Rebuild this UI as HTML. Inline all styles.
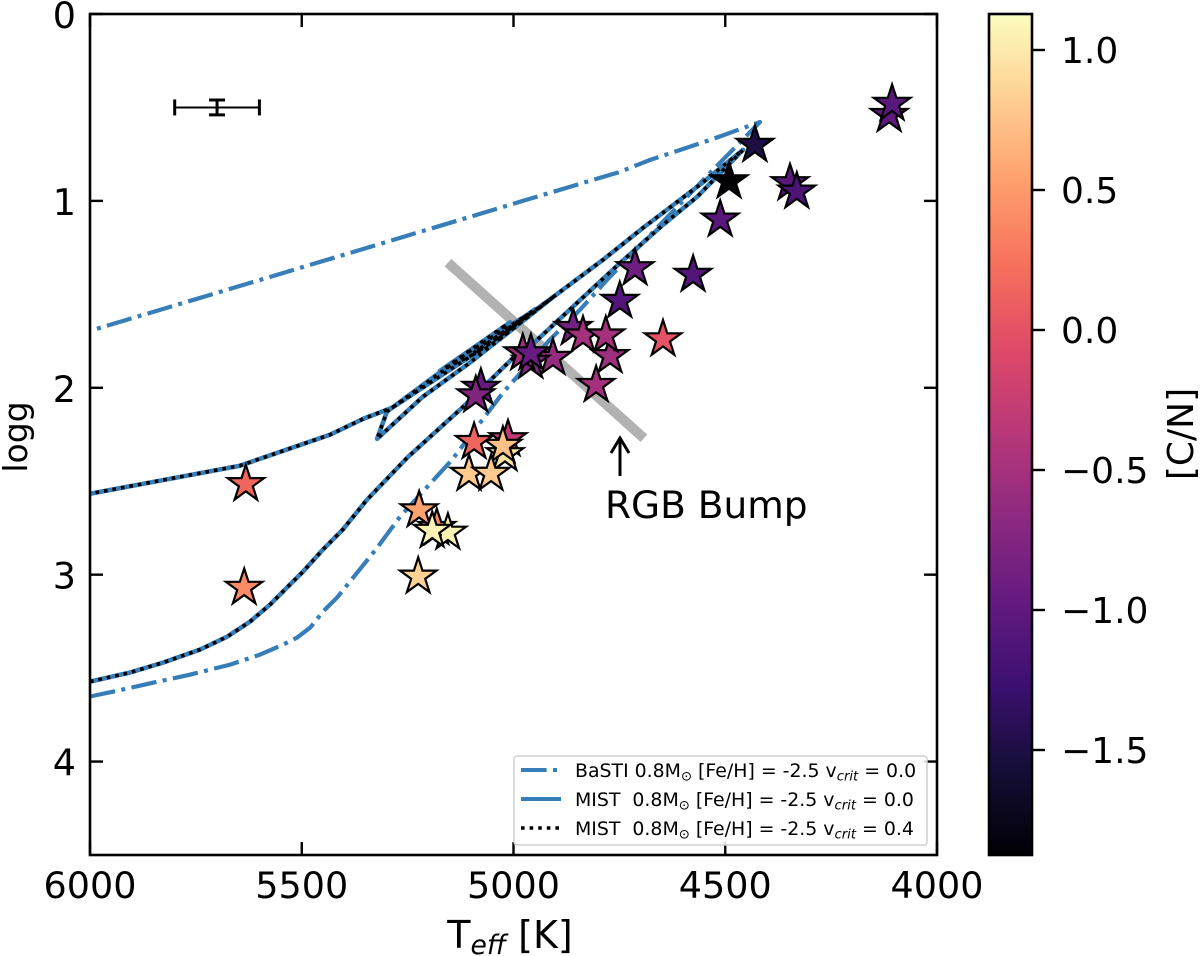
<!DOCTYPE html>
<html lang="en">
<head>
<meta charset="utf-8">
<title>logg vs Teff with [C/N] colour scale</title>
<style>
html,body{margin:0;padding:0;background:#fff;}
svg{display:block;}
text{font-family:"DejaVu Sans","Liberation Sans",sans-serif;fill:#000;white-space:pre;}
</style>
</head>
<body>
<svg id="chart" xmlns="http://www.w3.org/2000/svg" width="1200" height="956" viewBox="0 0 1200 956">
  <defs>
    <linearGradient id="magma-gradient" x1="0" y1="1" x2="0" y2="0"></linearGradient>
  </defs>
  <rect x="0" y="0" width="1200" height="956" fill="#fff"></rect>
  <g id="marks"></g>
  <g id="axes"></g>
  <g id="legend"></g>
  <g id="colorbar"></g>
</svg>
<script>
// ---- Data ----
const xTickValues = [6000, 5500, 5000, 4500, 4000];
const xTickLabels = ['6000', '5500', '5000', '4500', '4000'];
const yTickValues = [0, 1, 2, 3, 4];
const yTickLabels = ['0', '1', '2', '3', '4'];
const cbarTickValues = [1.0, 0.5, 0.0, -0.5, -1.0, -1.5];
const cbarTickLabels = ['1.0', '0.5', '0.0', '\u22120.5', '\u22121.0', '\u22121.5'];

const bastiTeff = [6000,5946,5851,5764,5669,5599,5544,5511,5480,5450,5417,5386,5322,5268,5145,5025,4914,4843,4779,4536,4418,4536,4678,4749,4985,5268,5622,6000];
const bastiLogg = [3.652,3.626,3.578,3.535,3.481,3.428,3.374,3.337,3.283,3.198,3.123,3.037,2.856,2.69,2.385,2.027,1.743,1.583,1.422,0.85,0.578,0.674,0.781,0.845,1.005,1.198,1.439,1.695];

const mist0Teff = [6000,5906,5828,5740,5676,5622,5575,5528,5497,5450,5403,5346,5251,5119,5001,4949,4753,4647,4567,4458,4560,4694,4789,4909,5103,5214,5322,5299,5287,5197,5063,4909,5032,4949,5103,5008,5174,5050,4960,5110,5287,5355,5433,5646,6000];
const mist0Logg = [3.572,3.524,3.471,3.401,3.332,3.251,3.16,3.053,2.984,2.866,2.759,2.599,2.374,2.102,1.84,1.754,1.342,1.128,0.979,0.727,0.914,1.144,1.316,1.519,1.866,2.048,2.273,2.128,2.107,1.973,1.775,1.519,1.74,1.58,1.825,1.65,1.91,1.77,1.6,1.81,2.107,2.166,2.251,2.417,2.567];

const mist4Teff = [6000,5906,5828,5740,5676,5622,5575,5528,5497,5450,5403,5346,5251,5119,5001,4949,4753,4647,4567,4458,4560,4694,4789,4909,5103,5214,5322,5299,5287,5197,5063,4909,5040,4955,5095,5015,5165,5058,4968,5100,5287,5355,5433,5646,6000];
const mist4Logg = [3.572,3.524,3.471,3.401,3.332,3.251,3.16,3.053,2.984,2.866,2.759,2.599,2.374,2.102,1.84,1.754,1.342,1.128,0.979,0.727,0.914,1.144,1.316,1.519,1.866,2.048,2.273,2.128,2.107,1.973,1.775,1.519,1.75,1.59,1.815,1.66,1.9,1.78,1.61,1.8,2.107,2.166,2.251,2.417,2.567];

const bumpTeff = [5155, 4692];
const bumpLogg = [1.33, 2.27];

const starTeff = [4113,4106,4347,4331,4430,4491,4512,4576,4713,4749,4647,4859,4836,4772,4782,4805,4907,4959,4978,4959,5077,5089,5013,5020,5025,5093,5105,5053,5181,5223,5155,5192,5225,5636,5632];
const starLogg = [0.54,0.48,0.905,0.95,0.7,0.895,1.1,1.395,1.36,1.535,1.74,1.68,1.72,1.83,1.72,1.985,1.84,1.86,1.815,1.815,2.0,2.04,2.275,2.355,2.31,2.29,2.46,2.46,2.75,2.655,2.775,2.765,3.01,3.07,2.515];
const starCN = [-1.0,-1.05,-1.05,-1.15,-1.5,-1.87,-1.05,-1.1,-0.9,-1.1,0.0,-0.85,-0.5,-0.55,-0.5,-0.5,-0.6,-0.75,-0.55,-0.95,-0.95,-0.75,-0.3,0.95,0.75,0.15,0.8,0.8,0.4,0.55,1.05,1.05,0.85,0.4,0.15];

const errTeff = [5700];
const errLogg = [0.5];
const errTeffSize = [100];
const errLoggSize = [0.04];

const magmaStops = ['#000004','#140e36','#3b0f70','#641a80','#8c2981','#b73779','#de4968','#f7705c','#fe9f6d','#fecf92','#fcfdbf'];
const cmapMin = -1.875;
const cmapMax = 1.13;

const legendLabels = ['BaSTI 0.8M', 'MIST  0.8M', 'MIST  0.8M'];
const legendValues = ['0.0', '0.0', '0.4'];

// ---- Scales ----
const NS = 'http://www.w3.org/2000/svg';
const PL = 90, PR = 937, PT = 14, PB = 855;
const CL = 989, CR = 1032;
function xScale(t){ return PL + (6000 - t) / 2000 * (PR - PL); }
function yScale(g){ return PT + g / 4.5 * (PB - PT); }
function cbarY(v){ return 330 - v * 280; }

function mk(parent, tag, attrs, txt){
  const e = document.createElementNS(NS, tag);
  for (const k in attrs) e.setAttribute(k, attrs[k]);
  if (txt !== undefined) e.textContent = txt;
  parent.appendChild(e);
  return e;
}
function hex(c){ return [1,3,5].map(i => parseInt(c.substr(i,2),16)); }
function magma(v){
  const f = Math.max(0, Math.min(1, (v - cmapMin) / (cmapMax - cmapMin))) * (magmaStops.length - 1);
  const i = Math.min(Math.floor(f), magmaStops.length - 2);
  const a = hex(magmaStops[i]), b = hex(magmaStops[i+1]), u = f - i;
  return 'rgb(' + a.map((p,j) => Math.round(p + (b[j]-p)*u)).join(',') + ')';
}
function pts(ts, gs){ return ts.map((t,i) => xScale(t).toFixed(1) + ',' + yScale(gs[i]).toFixed(1)).join(' '); }
function starPts(cx, cy, r){
  const out = [];
  for (let i = 0; i < 10; i++){
    const rad = i % 2 ? r * 0.381966 : r;
    const a = -Math.PI/2 + i * Math.PI/5;
    out.push((cx + rad*Math.cos(a)).toFixed(1) + ',' + (cy + rad*Math.sin(a)).toFixed(1));
  }
  return out.join(' ');
}

const marks = document.getElementById('marks');
const axes = document.getElementById('axes');
const legend = document.getElementById('legend');
const cbar = document.getElementById('colorbar');
const BLUE = '#377eb8';

// ---- Tracks ----
const bump = mk(marks, 'polyline', {points: pts(bumpTeff, bumpLogg), fill:'none', stroke:'#b2b2b2', 'stroke-width':10});



const basti = mk(marks, 'polyline', {points: pts(bastiTeff, bastiLogg), fill:'none', stroke:BLUE, 'stroke-width':4.2, 'stroke-dasharray':'25.6 6.4 4 6.4', 'stroke-linejoin':'round'});



const mist0 = mk(marks, 'polyline', {points: pts(mist0Teff, mist0Logg), fill:'none', stroke:BLUE, 'stroke-width':4.6, 'stroke-linejoin':'round'});



const mist4 = mk(marks, 'polyline', {points: pts(mist4Teff, mist4Logg), fill:'none', stroke:'#000', 'stroke-width':3.6, 'stroke-dasharray':'3.6 5', 'stroke-linejoin':'round'});



// ---- Stars ----
starTeff.forEach((t, i) => {
  const s = mk(marks, 'polygon', {points: starPts(xScale(t), yScale(starLogg[i]), 19.2), fill: magma(starCN[i]), stroke:'#000', 'stroke-width':2.2, 'stroke-linejoin':'miter'});
  
  
});

// ---- Error bar ----
const eg = mk(marks, 'g', {stroke:'#000', fill:'none'});


{
  const cx = xScale(errTeff[0]), cy = yScale(errLogg[0]);
  const x0 = xScale(errTeff[0] + errTeffSize[0]), x1 = xScale(errTeff[0] - errTeffSize[0]);
  const y0 = yScale(errLogg[0] - errLoggSize[0]), y1 = yScale(errLogg[0] + errLoggSize[0]);
  mk(eg, 'line', {x1:x0, x2:x1, y1:cy, y2:cy, 'stroke-width':2});
  mk(eg, 'line', {x1:x0, x2:x0, y1:cy-8, y2:cy+8, 'stroke-width':3});
  mk(eg, 'line', {x1:x1, x2:x1, y1:cy-8, y2:cy+8, 'stroke-width':3});
  mk(eg, 'line', {x1:cx, x2:cx, y1:y0, y2:y1, 'stroke-width':3});
  mk(eg, 'line', {x1:cx-8, x2:cx+8, y1:y0, y2:y0, 'stroke-width':3});
  mk(eg, 'line', {x1:cx-8, x2:cx+8, y1:y1, y2:y1, 'stroke-width':3});
}

// ---- Annotation ----
const arrow = mk(marks, 'path', {d:'M620 476 L620 439 M611 453 L620 438 L629 453', fill:'none', stroke:'#000', 'stroke-width':3});


const bumpText = mk(marks, 'text', {x:605, y:518, 'font-size':37.5}, 'RGB Bump');



// ---- Axes ----
const TL = 13;
xTickValues.forEach((v, i) => {
  const x = xScale(v);
  const b = mk(axes, 'line', {x1:x, x2:x, y1:PB, y2:PB-TL, stroke:'#000', 'stroke-width':2.4});
  
  
  const t = mk(axes, 'line', {x1:x, x2:x, y1:PT, y2:PT+TL, stroke:'#000', 'stroke-width':2.4});
  
  
  const l = mk(axes, 'text', {x:x, y:898, 'font-size':36.5, 'text-anchor':'middle'}, xTickLabels[i]);
  
  
});
yTickValues.forEach((v, i) => {
  const y = yScale(v);
  const b = mk(axes, 'line', {x1:PL, x2:PL+TL, y1:y, y2:y, stroke:'#000', 'stroke-width':2.4});
  
  
  const r = mk(axes, 'line', {x1:PR, x2:PR-TL, y1:y, y2:y, stroke:'#000', 'stroke-width':2.4});
  
  
  const l = mk(axes, 'text', {x:76, y:y+14, 'font-size':36.5, 'text-anchor':'end'}, yTickLabels[i]);
  
  
});
const frame = mk(axes, 'rect', {x:PL, y:PT, width:PR-PL, height:PB-PT, fill:'none', stroke:'#000', 'stroke-width':2.6});



const yTitle = mk(axes, 'text', {x:0, y:0, 'font-size':33, 'text-anchor':'middle', transform:'translate(27,437) rotate(-90)'}, 'logg');



const xTitle = mk(axes, 'text', {x:510, y:948, 'font-size':38, 'text-anchor':'middle'});


mk(xTitle, 'tspan', {}, 'T');
mk(xTitle, 'tspan', {dy:6, 'font-size':26.6, 'font-style':'italic'}, 'eff');
mk(xTitle, 'tspan', {dy:-6}, ' [K]');

// ---- Legend ----
const lbox = mk(legend, 'rect', {x:514, y:756, width:413, height:89, rx:3, fill:'#fff', 'fill-opacity':0.85, stroke:'#d0d0d0', 'stroke-width':1.5});


const handleDash = ['25.6 6.4 4 6.4', 'none', '3.6 5'];
const handleColor = [BLUE, BLUE, '#000'];
const handleWidth = [4, 4, 3.6];
legendLabels.forEach((lab, i) => {
  const y = 770 + i * 29;
  const h = mk(legend, 'line', {x1:521, x2:561, y1:y, y2:y, stroke:handleColor[i], 'stroke-width':handleWidth[i], 'stroke-dasharray':handleDash[i]});
  
  
  const t = mk(legend, 'text', {x:575, y:y+7, 'font-size':18.9});
  
  
  mk(t, 'tspan', {}, lab);
  mk(t, 'tspan', {dy:3.5, 'font-size':13.2}, '\u2299');
  mk(t, 'tspan', {dy:-3.5}, ' [Fe/H] = -2.5 v');
  mk(t, 'tspan', {dy:3.5, 'font-size':13.2, 'font-style':'italic'}, 'crit');
  mk(t, 'tspan', {dy:-3.5}, ' = ' + legendValues[i]);
});

// ---- Colorbar ----
const grad = document.getElementById('magma-gradient');
magmaStops.forEach((c, i) => {
  mk(grad, 'stop', {offset: (i / (magmaStops.length - 1)).toFixed(3), 'stop-color': c});
});
const cbTop = 14, cbBot = 855;
const cr = mk(cbar, 'rect', {x:CL, y:cbTop, width:CR-CL, height:cbBot-cbTop, fill:'url(#magma-gradient)', stroke:'#000', 'stroke-width':2.6});


cbarTickValues.forEach((v, i) => {
  const y = cbarY(v);
  const t = mk(cbar, 'line', {x1:CR, x2:CR+13, y1:y, y2:y, stroke:'#000', 'stroke-width':2.4});
  
  
  const l = mk(cbar, 'text', {x:1061, y:y+13, 'font-size':36}, cbarTickLabels[i]);
  
  
});
const cTitle = mk(cbar, 'text', {x:0, y:0, 'font-size':36, 'text-anchor':'middle', transform:'translate(1193,434) rotate(-90)'}, '[C/N]');


</script>
</body>
</html>
